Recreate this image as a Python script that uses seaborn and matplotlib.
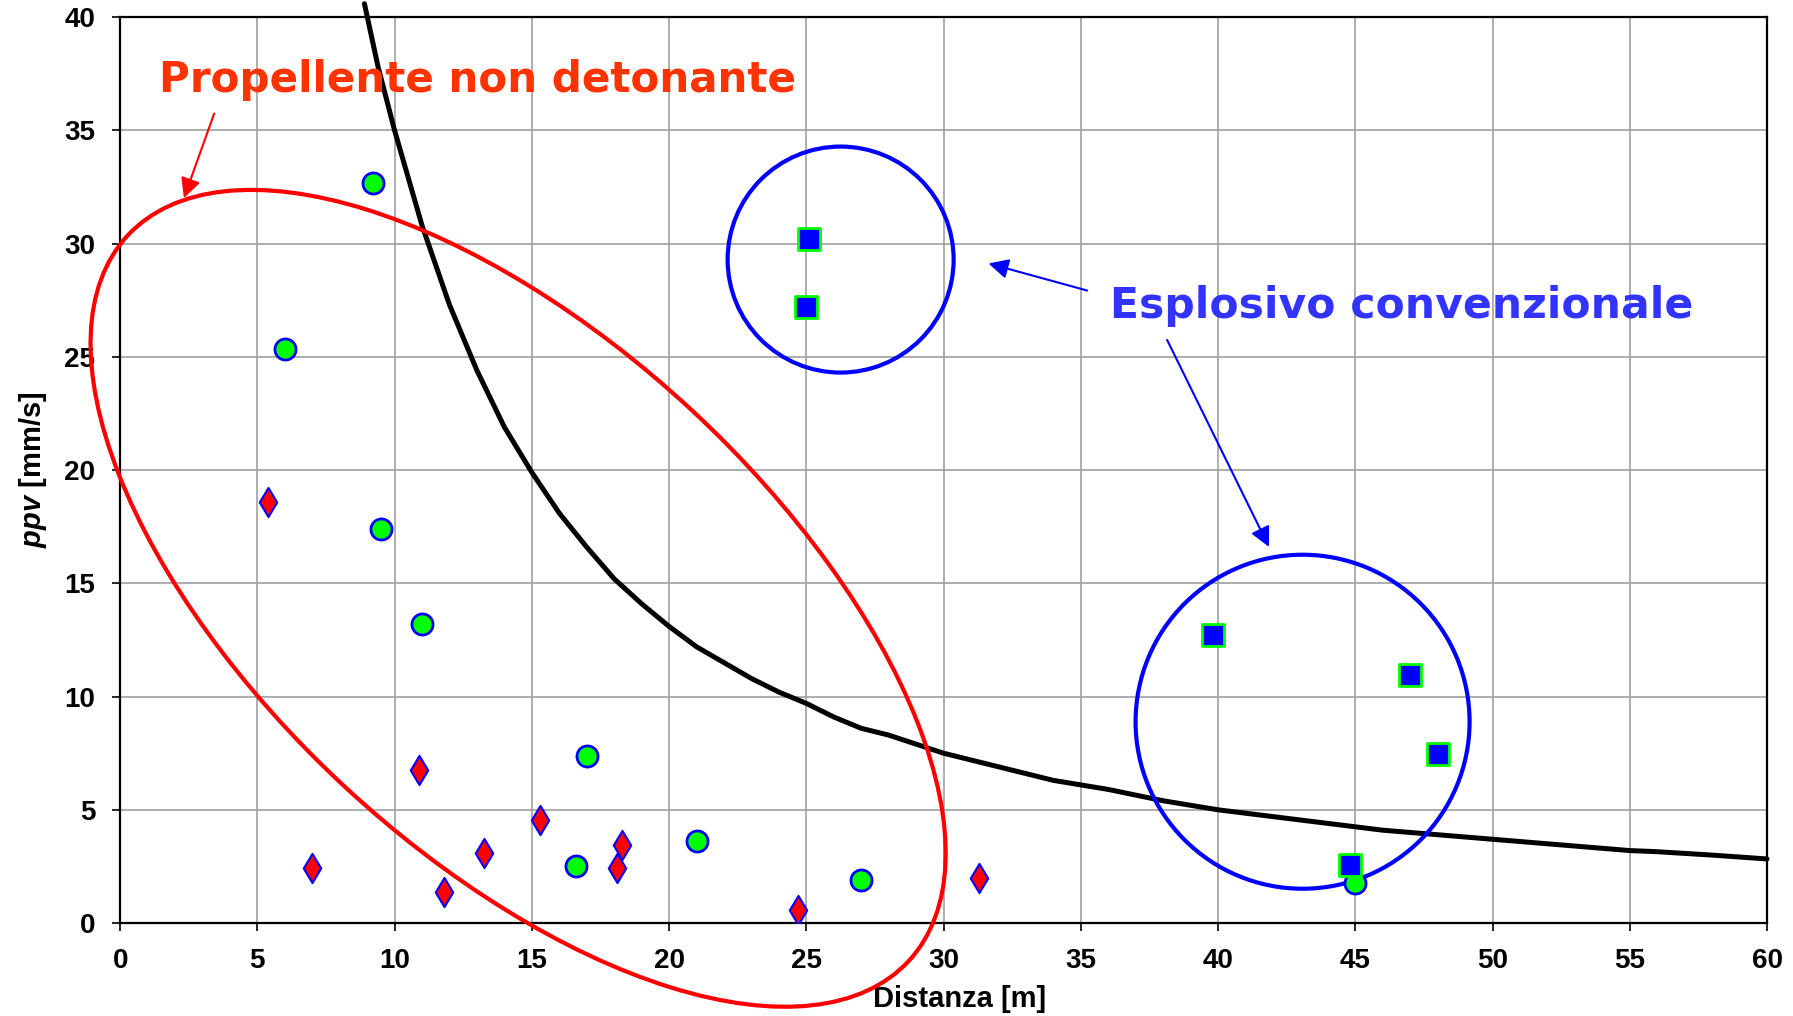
import pandas as pd
import seaborn as sns
import matplotlib.pyplot as plt
from matplotlib.patches import Ellipse
from matplotlib.transforms import ScaledTranslation

# misure: propellente non detonante (cerchi verdi)
circ_x = [9.2, 6.0, 9.5, 11.0, 17.0, 16.6, 21.0, 27.0, 45.0]
circ_y = [32.7, 25.35, 17.4, 13.2, 7.37, 2.53, 3.64, 1.92, 1.77]

# propellente non detonante (rombi rossi)
diam_x = [5.4, 7.0, 10.9, 11.8, 13.25, 15.3, 18.3, 18.1, 24.7, 31.3]
diam_y = [18.6, 2.42, 6.77, 1.36, 3.08, 4.55, 3.43, 2.42, 0.56, 1.97]

# esplosivo convenzionale (quadrati blu)
sq_x = [25.1, 25.0, 39.8, 47.0, 48.0, 44.8]
sq_y = [30.2, 27.2, 12.7, 10.96, 7.47, 2.58]

# curva limite
curve_x = [8.9, 9.4, 10, 11, 12, 13, 14, 15, 16, 17, 18, 19, 20, 21, 22, 23, 24, 25,
           26, 27, 28, 29, 30, 32, 34, 36, 38, 40, 42, 44, 46, 48, 50, 52, 54, 55,
           56, 58, 60]
curve_y = [40.6, 37.8, 35.0, 30.8, 27.3, 24.4, 21.9, 19.9, 18.1, 16.6, 15.2, 14.1,
           13.1, 12.2, 11.5, 10.8, 10.2, 9.7, 9.1, 8.6, 8.3, 7.9, 7.5, 6.9, 6.3,
           5.9, 5.4, 5.0, 4.7, 4.4, 4.1, 3.9, 3.7, 3.5, 3.3, 3.2, 3.15, 3.0, 2.83]

sns.set_style('white')
plt.rcParams['font.family'] = ['Liberation Sans Narrow', 'Liberation Sans', 'DejaVu Sans']
plt.rcParams['mathtext.fontset'] = 'custom'
plt.rcParams['mathtext.it'] = 'Liberation Sans:italic:bold'
plt.rcParams['mathtext.rm'] = 'Liberation Sans:bold'
for k in ['text.color', 'axes.labelcolor', 'xtick.color', 'ytick.color']:
    plt.rcParams[k] = 'black'

fig = plt.figure(figsize=(17.93, 10.16), dpi=100)
ax = fig.add_axes([0.067, 0.0915, 0.9185, 0.8915])

ax.set_xlim(0, 60)
ax.set_ylim(0, 40)
ax.set_xticks(range(0, 61, 5))
ax.set_yticks(range(0, 41, 5))
ax.grid(True, color='#a0a0a0', lw=1.2)
ax.set_axisbelow(True)
for s in ax.spines.values():
    s.set_color('black')
    s.set_linewidth(1.6)
ax.tick_params(direction='out', length=6, width=1.2, colors='black', left=True, bottom=True,
               labelsize=20, pad=12)
for lab in ax.get_xticklabels() + ax.get_yticklabels():
    lab.set_fontweight('bold')

ax.plot(curve_x, curve_y, color='black', lw=3.6, clip_on=False, zorder=3)

circ = pd.DataFrame({'x': circ_x, 'y': circ_y})
diam = pd.DataFrame({'x': diam_x, 'y': diam_y})
sq = pd.DataFrame({'x': sq_x, 'y': sq_y})
sns.scatterplot(data=circ, x='x', y='y', marker='o', s=230, color='#00ff00',
                edgecolor='#0000ff', linewidth=2, ax=ax, zorder=5)
sns.scatterplot(data=diam, x='x', y='y', marker='d', s=220, color='#ff0000',
                edgecolor='#0000ff', linewidth=1.5, ax=ax, zorder=5)
sns.scatterplot(data=sq, x='x', y='y', marker='s', s=230, color='#0000ff',
                edgecolor='#00ff00', linewidth=2, ax=ax, zorder=5)


def shape(cx, cy, w, h, ang, col):
    tr = fig.dpi_scale_trans + ScaledTranslation(cx, cy, ax.transData)
    e = Ellipse((0, 0), w, h, angle=ang, fill=False, edgecolor=col, lw=3,
                transform=tr, clip_on=False, zorder=4)
    ax.add_patch(e)


shape(14.5, 14.34, 10.66, 5.12, -42.9, '#ff0000')
shape(26.25, 29.3, 2.26, 2.26, 0, '#0000ff')
shape(43.08, 8.89, 3.34, 3.34, 0, '#0000ff')

ax.text(1.4, 37.25, 'Propellente non detonante', color='#ff3300', fontsize=30.3,
        fontweight='bold', family='DejaVu Sans', ha='left', va='center')
ax.text(36.05, 27.25, 'Esplosivo convenzionale', color='#3333ff', fontsize=30.6,
        fontweight='bold', family='DejaVu Sans', ha='left', va='center')

ax.annotate('', xy=(2.29, 31.9), xytext=(3.46, 35.86),
            arrowprops=dict(arrowstyle='-|>', color='#ff0000', lw=1.5, mutation_scale=30),
            annotation_clip=False)
ax.annotate('', xy=(31.54, 29.16), xytext=(35.33, 27.9),
            arrowprops=dict(arrowstyle='-|>', color='#0000ff', lw=1.5, mutation_scale=30))
ax.annotate('', xy=(41.9, 16.5), xytext=(38.1, 25.86),
            arrowprops=dict(arrowstyle='-|>', color='#0000ff', lw=1.5, mutation_scale=30))

ax.set_xlabel('Distanza [m]', fontsize=21, fontweight='bold', family='Liberation Sans')
ax.set_ylabel(r'$ppv$ [mm/s]', fontsize=21, fontweight='bold', family='Liberation Sans')
ax.xaxis.set_label_coords(0.51, -0.068)
ax.yaxis.set_label_coords(-0.043, 0.5)

plt.savefig('out.png', dpi=100)
